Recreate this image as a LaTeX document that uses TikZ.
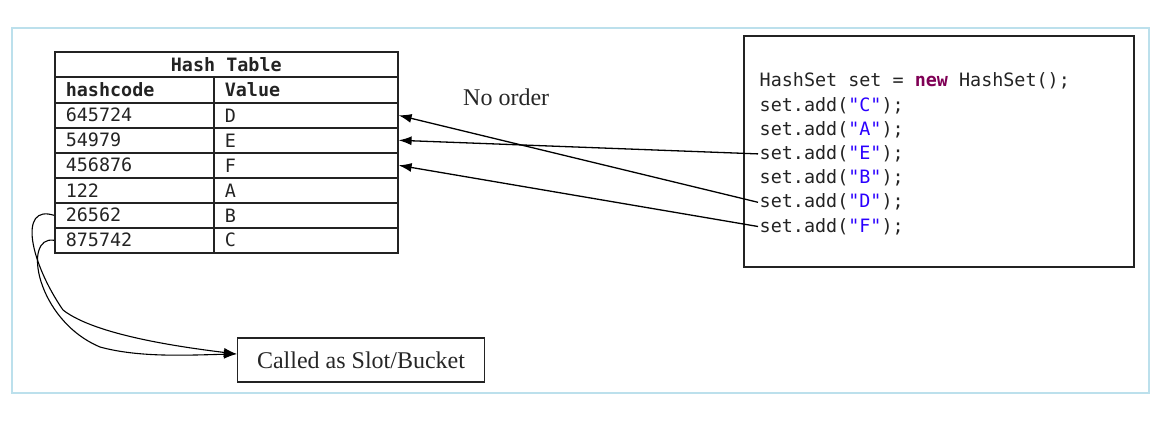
\documentclass[tikz,border=0pt]{standalone}
\usepackage{fontspec}
\setmainfont{Liberation Serif}
\newfontfamily\codefont{DejaVu Sans Mono}
\usetikzlibrary{arrows.meta}
\definecolor{frameblue}{RGB}{188,224,236}
\definecolor{kwpurple}{RGB}{127,0,85}
\definecolor{strblue}{RGB}{42,0,255}
\definecolor{codegray}{RGB}{35,35,35}
\newcommand{\cf}{\codefont\fontsize{18.4}{20}\selectfont}
\tikzset{
  cell/.style={draw=codegray, line width=1.6pt, minimum height=25pt, inner sep=0pt, anchor=north west,
    font=\cf, text=codegray},
  hcell/.style={cell, minimum width=159pt, text width=137pt, align=left},
  vcell/.style={cell, minimum width=184pt, text width=162pt, align=left},
  codeline/.style={anchor=base west, inner sep=1.5pt, font=\cf, text=codegray},
  conn/.style={line width=1.3pt, -{Latex[length=13pt,width=9pt]}},
  serif/.style={font=\fontsize{24}{28}\selectfont, text=black!85}
}
\newcommand{\str}[1]{\textcolor{strblue}{"#1"}}
\begin{document}
\begin{tikzpicture}[x=1pt,y=-1pt]
\useasboundingbox (0,0) rectangle (1166,430);
% outer frame
\draw[frameblue, line width=1.8pt] (12,28) rectangle (1149,393);
% hash table
\node[cell, minimum width=343pt, font=\cf\bfseries] (title) at (54,51) {Hash Table};
\node[hcell, font=\cf\bfseries, minimum height=26pt] (h0) at (54,76) {hashcode};
\node[vcell, font=\cf\bfseries, minimum height=26pt] (v0) at (213,76) {Value};
\node[hcell] (h1) at (54,102) {645724};
\node[vcell] (v1) at (213,102) {D};
\node[hcell] (h2) at (54,127) {54979};
\node[vcell] (v2) at (213,127) {E};
\node[hcell] (h3) at (54,152) {456876};
\node[vcell] (v3) at (213,152) {F};
\node[hcell] (h4) at (54,177) {122};
\node[vcell] (v4) at (213,177) {A};
\node[hcell] (h5) at (54,202) {26562};
\node[vcell] (v5) at (213,202) {B};
\node[hcell] (h6) at (54,227) {875742};
\node[vcell] (v6) at (213,227) {C};
% code box
\draw[codegray, line width=1.4pt] (744,36) rectangle (1134,267);
\node[codeline] (c0) at (758,87) {HashSet set = \textcolor{kwpurple}{\bfseries new} HashSet();};
\node[codeline] (c1) at (758,111.2) {set.add(\str{C});};
\node[codeline] (c2) at (758,135.4) {set.add(\str{A});};
\node[codeline] (c3) at (758,159.6) {set.add(\str{E});};
\node[codeline] (c4) at (758,183.8) {set.add(\str{B});};
\node[codeline] (c5) at (758,208) {set.add(\str{D});};
\node[codeline] (c6) at (758,232.2) {set.add(\str{F});};
% label
\node[serif, anchor=base west, inner sep=0pt] (noorder) at (463,106) {No order};
% slot box
\node[serif, draw=codegray, line width=1.3pt, minimum width=247pt, minimum height=44pt, inner sep=0pt] (slot) at (361,360) {Called as Slot/Bucket};
\coordinate (slotin) at ([yshift=6pt]slot.west);
% connectors
\draw[conn] (c3.west) -- (v2.east);
\draw[conn] (c5.west) -- (v1.east);
\draw[conn] (c6.west) -- (v3.east);
\draw[conn, line width=1.1pt] (h5.west) .. controls (18,204) and (30,262) .. (63,310) .. controls (95,335) and (180,347) .. (slotin);
\draw[conn, line width=1.1pt] (h6.west) .. controls (22,235) and (36,320) .. (100,347) .. controls (140,358) and (190,355) .. (slotin);
\end{tikzpicture}
\end{document}
